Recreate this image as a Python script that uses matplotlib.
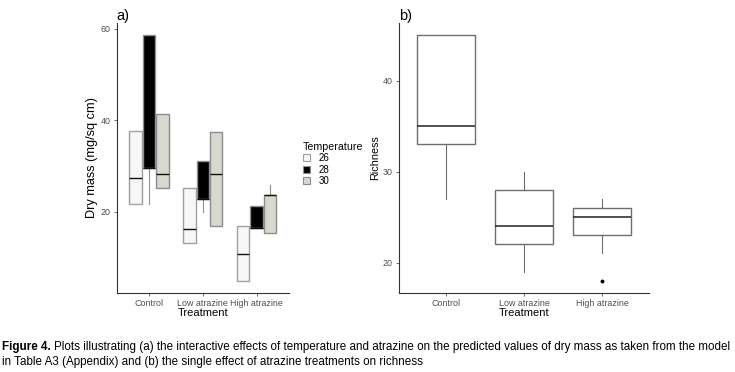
import matplotlib
matplotlib.use("Agg")
import matplotlib.pyplot as plt
from matplotlib.patches import Rectangle

plt.rcParams["font.family"] = ["Liberation Sans", "DejaVu Sans"]

# Panel a: dry mass by treatment and temperature
treatments = ["Control", "Low atrazine", "High atrazine"]
temperatures = ["26", "28", "30"]
temp_colors = ["#f7f7f7", "#000000", "#d8d8cf"]
temp_edges = ["#a0a0a0", "#909090", "#8c8c8c"]

# rows: treatments, columns: temperatures
mass_q1 = [[21.8, 29.7, 25.2], [13.3, 22.9, 17.0], [5.0, 16.5, 15.4]]
mass_med = [[27.4, 29.7, 28.4], [16.3, 22.9, 28.2], [10.8, 16.5, 23.7]]
mass_q3 = [[37.6, 58.6, 41.4], [25.2, 31.2, 37.5], [17.0, 21.3, 23.8]]
mass_lo = [[21.8, 21.8, 25.2], [13.3, 20.1, 17.0], [5.0, 16.5, 15.4]]
mass_hi = [[37.6, 58.6, 41.4], [25.2, 31.2, 37.5], [17.0, 21.3, 25.9]]

# Panel b: richness by treatment
rich_q1 = [33.0, 22.0, 23.0]
rich_med = [35.0, 24.0, 25.0]
rich_q3 = [45.0, 28.0, 26.0]
rich_lo = [27.0, 19.0, 21.0]
rich_hi = [45.0, 30.0, 27.0]
rich_outliers = [[], [], [18.0]]

caption_bold = "Figure 4."
caption_1 = ("Plots illustrating (a) the interactive effects of temperature and atrazine on the "
             "predicted values of dry mass as taken from the model")
caption_2 = "in Table A3 (Appendix) and (b) the single effect of atrazine treatments on richness"

tick_col = "#4d4d4d"

fig = plt.figure(figsize=(7.35, 3.72), dpi=100)
ax1 = fig.add_axes([0.159, 0.2124, 0.234, 0.726])
ax2 = fig.add_axes([0.543, 0.2124, 0.340, 0.726])


def style_axes(ax):
    for s in ["top", "right"]:
        ax.spines[s].set_visible(False)
    for s in ["left", "bottom"]:
        ax.spines[s].set_color("#333333")
        ax.spines[s].set_linewidth(0.8)
    ax.tick_params(axis="both", colors=tick_col, labelsize=6.4, length=2.5, width=0.6, pad=2)
    ax.set_xlim(0.4, 3.6)
    ax.set_xticks([1, 2, 3])
    ax.set_xticklabels(treatments)


# panel a
offsets = [-0.25, 0.0, 0.25]
for j, t in enumerate(temperatures):
    stats = []
    for i in range(3):
        stats.append(dict(med=mass_med[i][j], q1=mass_q1[i][j], q3=mass_q3[i][j],
                          whislo=mass_lo[i][j], whishi=mass_hi[i][j], fliers=[]))
    pos = [i + 1 + offsets[j] for i in range(3)]
    ax1.bxp(stats, positions=pos, widths=0.23, showcaps=False, patch_artist=True,
            boxprops=dict(facecolor=temp_colors[j], edgecolor=temp_edges[j], linewidth=1.0),
            medianprops=dict(color="#111111", linewidth=1.0),
            whiskerprops=dict(color=temp_edges[j], linewidth=0.8), manage_ticks=False)
style_axes(ax1)
ax1.set_ylim(2.3, 61.3)
ax1.set_yticks([20, 40, 60])
ax1.set_ylabel("Dry mass (mg/sq cm)", fontsize=9.2, labelpad=2)
ax1.set_xlabel("Treatment", fontsize=8, labelpad=0)
ax1.text(-0.005, 1.0, "a)", transform=ax1.transAxes, fontsize=10.5, ha="left", va="bottom")

handles = [Rectangle((0, 0), 1, 1, facecolor=c, edgecolor=e, linewidth=0.8)
           for c, e in zip(temp_colors, temp_edges)]
leg = fig.legend(handles, temperatures, title="Temperature", loc="upper left",
                 bbox_to_anchor=(0.404, 0.635), frameon=False, fontsize=7,
                 title_fontsize=7.7, handlelength=0.7, handleheight=0.7,
                 handletextpad=0.9, labelspacing=0.15, borderpad=0.1)
leg._legend_box.align = "left"

# panel b
stats = []
for i in range(3):
    stats.append(dict(med=rich_med[i], q1=rich_q1[i], q3=rich_q3[i],
                      whislo=rich_lo[i], whishi=rich_hi[i], fliers=rich_outliers[i]))
ax2.bxp(stats, positions=[1, 2, 3], widths=0.75, showcaps=False, patch_artist=True,
        boxprops=dict(facecolor="white", edgecolor="#6e6e6e", linewidth=1.0),
        medianprops=dict(color="#222222", linewidth=1.1),
        whiskerprops=dict(color="#6e6e6e", linewidth=0.8),
        flierprops=dict(marker="o", markersize=1.8, markerfacecolor="black",
                        markeredgecolor="black"), manage_ticks=False)
style_axes(ax2)
ax2.set_ylim(16.65, 46.35)
ax2.set_yticks([20, 30, 40])
ax2.set_ylabel("Richness", fontsize=7.8, labelpad=2)
ax2.set_xlabel("Treatment", fontsize=8, labelpad=0)
ax2.text(0.0, 1.0, "b)", transform=ax2.transAxes, fontsize=10.5, ha="left", va="bottom")

# caption, shrunk so the first line fits the same width as in the figure
renderer = fig.canvas.get_renderer()
size = 7.6
t_bold = fig.text(0.003, 0.067, caption_bold, fontsize=size, fontweight="bold",
                  ha="left", va="center")
t_1 = fig.text(0.0, 0.067, caption_1, fontsize=size, ha="left", va="center")
w_bold = t_bold.get_window_extent(renderer).width
w_1 = t_1.get_window_extent(renderer).width
scale = (727 - 2 - 4) / (w_bold + 4 + w_1)
size = size * scale
t_bold.set_fontsize(size)
t_1.set_fontsize(size)
w_bold = t_bold.get_window_extent(renderer).width
t_1.set_x((2 + w_bold + 3) / 735)
fig.text(0.003, 0.027, caption_2, fontsize=size, ha="left", va="center")

fig.savefig("out.png", dpi=100)
